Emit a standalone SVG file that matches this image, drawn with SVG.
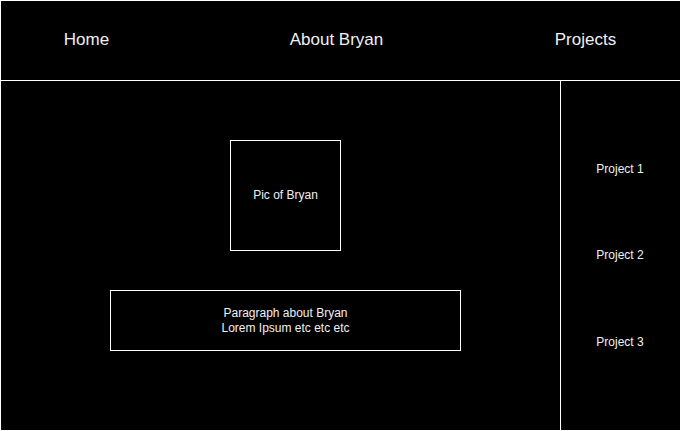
<svg xmlns="http://www.w3.org/2000/svg" width="681" height="431" viewBox="0 0 681 431">
<style>
.box{fill:#000;stroke:#fff;stroke-width:1}
.ln{stroke:#fff;stroke-width:1;fill:none}
text{font-family:"Liberation Sans",Arial,sans-serif;fill:#f0f0f0;text-anchor:middle;dominant-baseline:central}
.big{font-size:17px}
.sm{font-size:12px}
</style>
<rect x="0" y="0" width="681" height="431" fill="#000"/>
<g id="page"><rect class="box" x="0.5" y="0.5" width="680" height="430"/></g>
<g id="connectors">
<line class="ln" x1="0" y1="80.5" x2="681" y2="80.5"/>
<line class="ln" x1="560.5" y1="80.5" x2="560.5" y2="431"/>
</g>
<g id="home"><text class="big" x="86.5" y="39">Home</text></g>
<g id="about"><text class="big" x="336.5" y="39">About Bryan</text></g>
<g id="projects"><text class="big" x="585.5" y="39">Projects</text></g>
<g id="pic"><rect class="box" x="230.5" y="140.5" width="110" height="110"/><text class="sm" x="285.5" y="194.5">Pic of Bryan</text></g>
<g id="paragraph"><rect class="box" x="110.5" y="290.5" width="350" height="60"/><text class="sm" x="285.5" y="312.5">Paragraph about Bryan</text><text class="sm" x="285.5" y="327.5">Lorem Ipsum etc etc etc</text></g>
<g id="project1"><text class="sm" x="620" y="168.5">Project 1</text></g>
<g id="project2"><text class="sm" x="620" y="254.5">Project 2</text></g>
<g id="project3"><text class="sm" x="620" y="341.5">Project 3</text></g>
</svg>
